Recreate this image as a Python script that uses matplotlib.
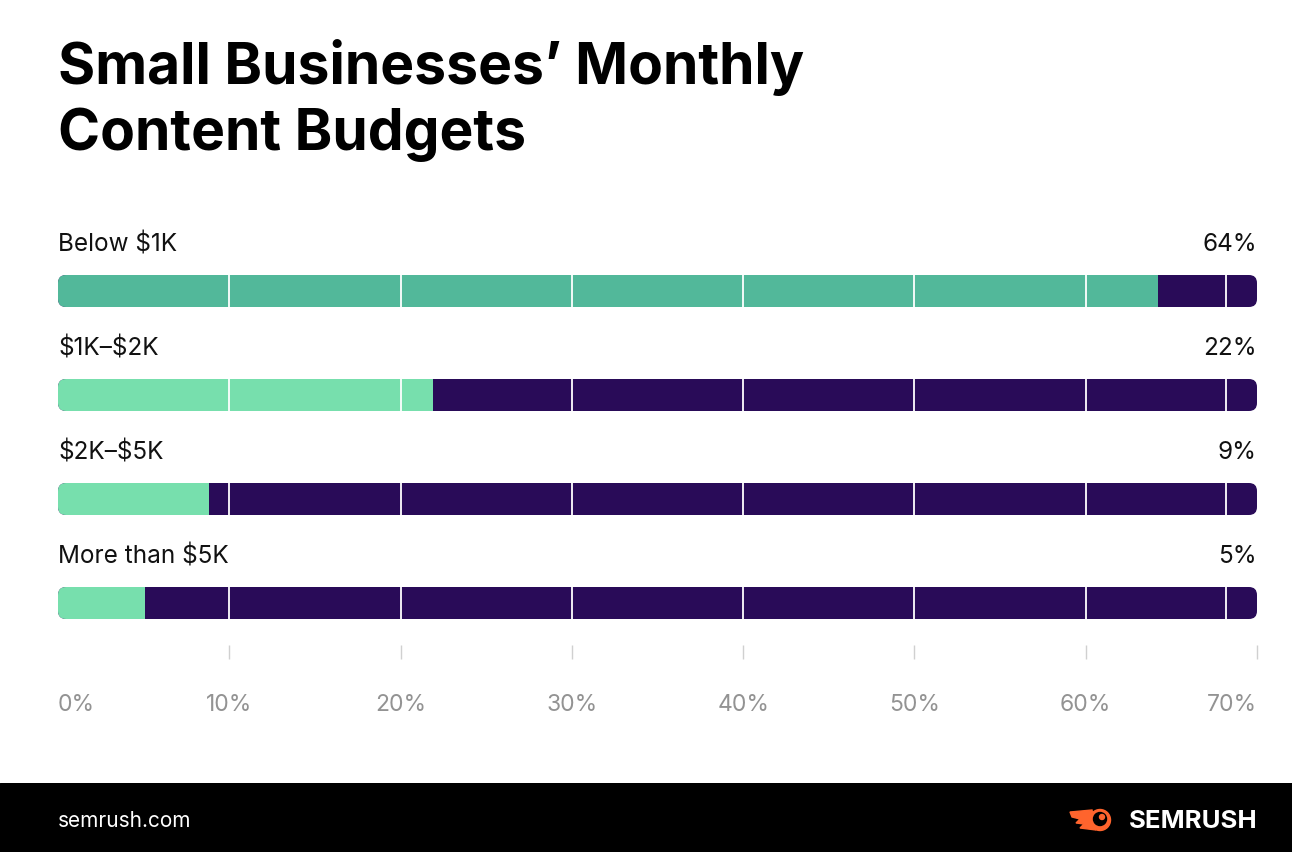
import matplotlib
matplotlib.use("Agg")
import matplotlib.pyplot as plt
from matplotlib.patches import FancyBboxPatch, Circle, Polygon

# data
categories = ["Below $1K", "$1K\u2013$2K", "$2K\u2013$5K", "More than $5K"]
shares = [64.2, 21.9, 8.8, 5.1]
share_labels = ["64%", "22%", "9%", "5%"]
bar_colors = ["#52b89a", "#77dfad", "#77dfad", "#77dfad"]
x_ticks = [0, 10, 20, 30, 40, 50, 60, 70]
grid_lines = [10, 20, 30, 40, 50, 60, 68.2]

W, H, DPI = 1292, 852, 100
DARK = "#290b58"
FONT = "Inter"

fig = plt.figure(figsize=(W / DPI, H / DPI), dpi=DPI, facecolor="white")

# main axes, pixel placement
left_px, right_px = 58, 1257
top_px, bottom_px = 187, 659
ax = fig.add_axes([left_px / W, 1 - bottom_px / H,
                   (right_px - left_px) / W, (bottom_px - top_px) / H])
x_max = 70
row_gap_px = 104
ax.set_xlim(0, x_max)
ax.set_ylim(3 + (bottom_px - 603) / row_gap_px, -1)
for s in ax.spines.values():
    s.set_visible(False)
ax.set_yticks([])

x_per_px = x_max / (right_px - left_px)
y_per_px = 1 / row_gap_px
bar_h = 32 * y_per_px
radius_px = 8

for i, (cat, val, lab, col) in enumerate(zip(categories, shares, share_labels, bar_colors)):
    bg = FancyBboxPatch((0, i - bar_h / 2), x_max, bar_h,
                        boxstyle="round,pad=0,rounding_size=%f" % (radius_px * x_per_px),
                        mutation_aspect=y_per_px / x_per_px,
                        facecolor=DARK, edgecolor="none", zorder=1)
    ax.add_patch(bg)
    bars = ax.barh([i], [val], height=bar_h, left=0, color=col, zorder=2)
    for b in bars:
        b.set_clip_path(bg)
    vl = ax.vlines(grid_lines, i - bar_h / 2, i + bar_h / 2, colors="white",
                   linewidth=1.3, zorder=3)
    vl.set_clip_path(bg)
    ax.text(0, i - 40 * y_per_px, cat, ha="left", va="baseline", parse_math=False,
            fontsize=17.5, family=FONT, color="#111111")
    ax.text(x_max, i - 40 * y_per_px, lab, ha="right", va="baseline",
            fontsize=17.5, family=FONT, color="#111111")

ax.set_xticks(x_ticks)
ax.set_xticklabels(["%d%%" % t for t in x_ticks], family=FONT, fontsize=16.5,
                   color="#939393")
ax.tick_params(axis="x", direction="in", length=10, width=1, color="#d0d0d0", pad=25)
ticks = ax.xaxis.get_major_ticks()
ticks[0].tick1line.set_visible(False)
ticks[0].label1.set_horizontalalignment("left")
ticks[-1].label1.set_horizontalalignment("right")

# title
fig.text(left_px / W, 1 - 84 / H, "Small Businesses\u2019 Monthly",
         ha="left", va="baseline", fontsize=41, fontweight="bold", family=FONT,
         color="black")
fig.text(left_px / W, 1 - 150 / H, "Content Budgets",
         ha="left", va="baseline", fontsize=41, fontweight="bold", family=FONT,
         color="black")

# footer band
fax = fig.add_axes([0, 0, 1, 69 / H])
fax.set_xlim(0, W)
fax.set_ylim(852, 783)
fax.set_facecolor("black")
fax.axis("off")
fax.add_patch(plt.Rectangle((0, 783), W, 69, color="black"))
fax.text(58, 827, "semrush.com", ha="left", va="baseline", fontsize=15,
         family=FONT, color="white")
fax.text(1257, 828, "SEMRUSH", ha="right", va="baseline", fontsize=18.5,
         fontweight="bold", family=FONT, color="white")
orange = "#ff642d"
fax.add_patch(Polygon([(1070, 812), (1092, 810), (1096, 830), (1080, 828),
                       (1084, 824), (1076, 823), (1080, 819), (1072, 817)],
                      closed=True, color=orange))
fax.add_patch(Circle((1100, 820), 10.5, color=orange))
fax.add_patch(Circle((1100, 819), 6.5, color="black"))
fax.add_patch(Circle((1102, 817), 2.5, color=orange))

fig.savefig("out.png", dpi=DPI, facecolor="white")
